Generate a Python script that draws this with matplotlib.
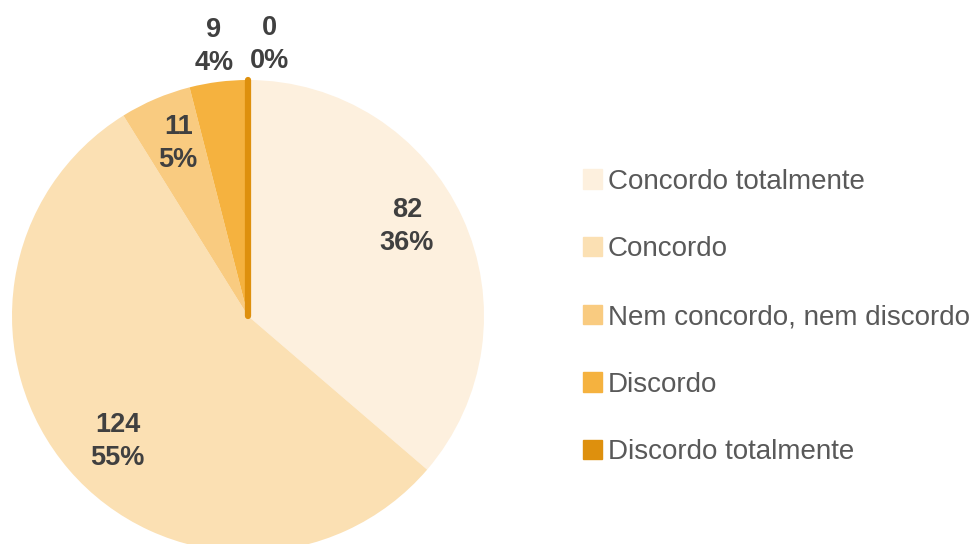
import numpy as np
import matplotlib.pyplot as plt
from matplotlib.patches import Patch

plt.rcParams['font.family'] = ['Liberation Sans', 'DejaVu Sans']

# %% data
categories = ["Concordo totalmente", "Concordo", "Nem concordo, nem discordo",
              "Discordo", "Discordo totalmente"]
counts = [82, 124, 11, 9, 0]
colors = ["#FDF0DE", "#FBE0B3", "#F9CB80", "#F5B23F", "#DE900D"]

total = sum(counts)
pcts = [round(100 * c / total) for c in counts]

# small nudges for label placement (axes units)
nudge = [(-0.035, 0.055), (0.04, -0.022), (0.01, 0.012), (0.0, -0.008), (0.09, -0.008)]

# %% figure
fig = plt.figure(figsize=(9.76, 5.44), dpi=100)
ax = fig.add_axes([12 / 976, -8 / 544, 472 / 976, 472 / 544])

wedges, _ = ax.pie(counts, colors=colors, startangle=90, counterclock=False,
                   radius=1, wedgeprops=dict(linewidth=0))
# zero slice shows up as a thin line
wedges[-1].set_edgecolor(colors[-1])
wedges[-1].set_linewidth(4.5)
wedges[-1].set_capstyle("round")

for i, w in enumerate(wedges):
    mid = np.deg2rad((w.theta1 + w.theta2) / 2)
    share = counts[i] / total
    d = 0.78 if share > 0.045 else 1.16
    x = d * np.cos(mid) + nudge[i][0]
    y = d * np.sin(mid) + nudge[i][1]
    ax.text(x, y, f"{counts[i]}\n{pcts[i]}%", ha="center", va="center",
            fontsize=19.5, fontweight="bold", color="#404040", linespacing=1.35)

ax.set_xlim(-1, 1)
ax.set_ylim(-1, 1)
ax.set_aspect("equal")
ax.axis("off")

handles = [Patch(facecolor=c, edgecolor=c, linewidth=1, joinstyle="round") for c in colors]
fig.legend(handles, categories, loc="center left",
           bbox_to_anchor=(583 / 976, 1 - 317 / 544), frameon=False,
           fontsize=20, labelcolor="#595959", handlelength=0.7, handleheight=0.7,
           handletextpad=0.2, labelspacing=1.5, borderpad=0, borderaxespad=0)

fig.savefig("out.png", dpi=100)
